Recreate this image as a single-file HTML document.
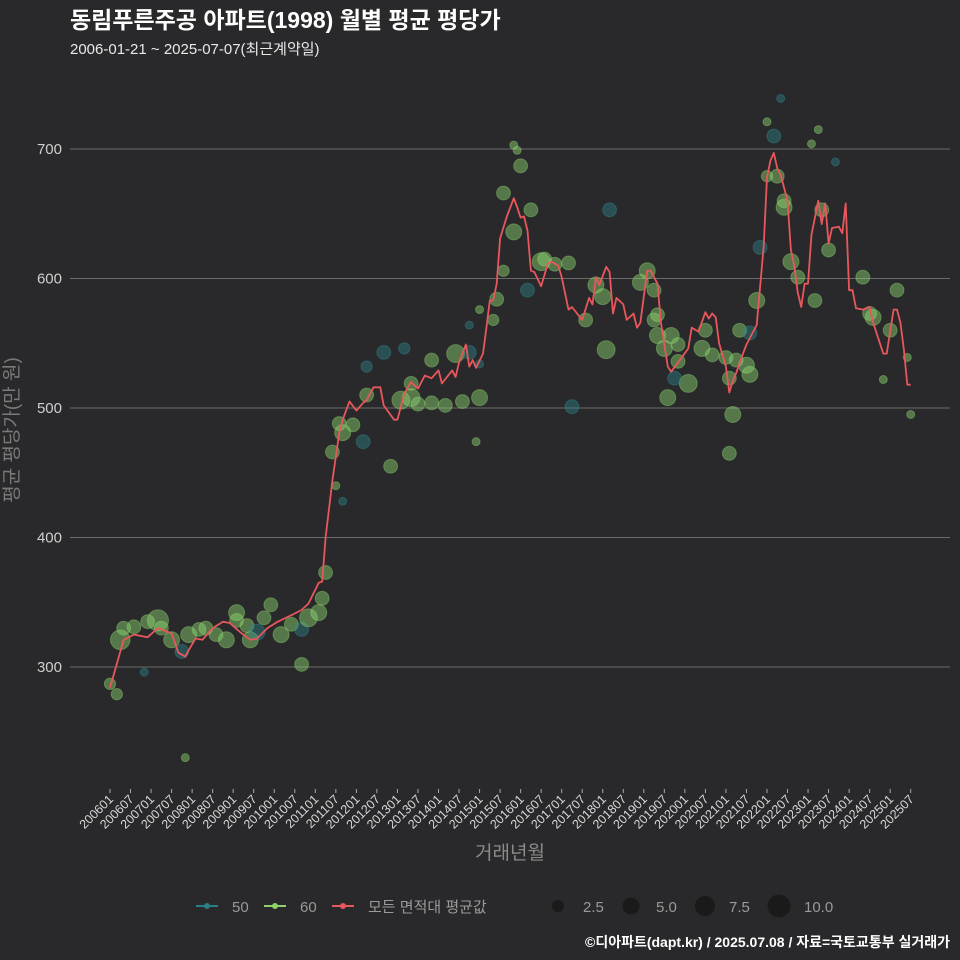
<!DOCTYPE html>
<html><head><meta charset="utf-8">
<style>
html,body{margin:0;padding:0;background:#29292b;}
svg{display:block;font-family:"Liberation Sans","Noto Sans CJK KR",sans-serif;}
</style></head>
<body>
<svg id="chart" width="960" height="960" viewBox="0 0 960 960">
<rect width="960" height="960" fill="#29292b"/>
<text x="70" y="28" fill="#ffffff" font-size="23" font-weight="bold">동림푸른주공 아파트(1998) 월별 평균 평당가</text>
<text x="70" y="54" fill="#e8e8e8" font-size="15">2006-01-21 ~ 2025-07-07(최근계약일)</text>
<g id="grid"></g>
<g id="yticks"></g>
<g id="xticks"></g>
<g id="bubbles"></g>
<g id="avgline"></g>
<text transform="translate(18,430) rotate(-90)" text-anchor="middle" fill="#7a7a7a" font-size="19">평균 평당가(만 원)</text>
<text x="510" y="859" text-anchor="middle" fill="#8a8a8a" font-size="19">거래년월</text>
<g>
 <g>
  <line x1="196" y1="906" x2="218" y2="906" stroke="#2a7f86" stroke-width="2"/><circle cx="207" cy="906" r="3" fill="#2a7f86"/>
  <text x="232" y="912" fill="#9a9a9a" font-size="15">50</text></g>
 <g>
  <line x1="264" y1="906" x2="286" y2="906" stroke="#8fd26a" stroke-width="2"/><circle cx="275" cy="906" r="3" fill="#8fd26a"/>
  <text x="300" y="912" fill="#9a9a9a" font-size="15">60</text></g>
 <g>
  <line x1="332" y1="906" x2="354" y2="906" stroke="#e8575c" stroke-width="2"/><circle cx="343" cy="906" r="3" fill="#e8575c"/>
  <text x="368" y="912" fill="#9a9a9a" font-size="15">모든 면적대 평균값</text></g>
 <g>
  <circle cx="558" cy="906" r="6" fill="#1a1a1b"/><text x="583" y="912" fill="#9a9a9a" font-size="15">2.5</text>
  <circle cx="631" cy="906" r="8.5" fill="#1a1a1b"/><text x="656" y="912" fill="#9a9a9a" font-size="15">5.0</text>
  <circle cx="705" cy="906" r="10" fill="#1a1a1b"/><text x="729" y="912" fill="#9a9a9a" font-size="15">7.5</text>
  <circle cx="779" cy="906" r="11.5" fill="#1a1a1b"/><text x="804" y="912" fill="#9a9a9a" font-size="15">10.0</text>
 </g>
</g>
<text x="950" y="947" text-anchor="end" fill="#ffffff" font-size="14" font-weight="bold">©디아파트(dapt.kr) / 2025.07.08 / 자료=국토교통부 실거래가</text>
</svg>
<script>
const yTicks=[300,400,500,600,700];
const avgMonths=[0,4,7,11,14,18,20,22,23,25,27,30,33,35,38,41,43,46,49,53,56,58,61,62,63,65,67,68,70,72,74,75,77,79,80,83,84,86,88,90,92,94,96,97,100,101,102,104,105,106,107,109,110,111,112,113,114,116,118,119,120,121,122,123,124,126,128,129,131,132,134,135,138,140,141,142,143,145,146,147,148,150,151,153,154,155,157,158,160,161,163,164,166,169,170,172,174,175,176,177,178,180,181,182,183,185,186,189,191,192,193,194,195,196,198,199,200,201,202,203,204,205,207,208,209,210,211,213,214,215,216,217,218,220,222,223,225,226,227,229,230,231,232,233,234];
const avgValues=[284,321,325,323,330,326,311,308,313,322,321,330,335,334,327,321,322,330,335,340,344,349,365,366,400,444,481,491,505,498,504,506,516,516,502,491,491,511,520,515,525,523,529,519,529,524,535,549,532,537,531,542,562,583,583,596,631,648,662,655,647,648,637,606,605,594,612,613,610,601,576,578,568,585,580,601,595,609,605,573,585,580,568,573,562,566,606,606,596,566,532,528,535,546,562,559,574,569,573,570,550,532,512,521,527,542,549,564,624,678,691,697,685,680,660,622,609,589,578,596,596,634,660,642,658,627,639,640,635,658,591,591,577,576,578,566,550,542,542,576,576,566,545,518,518];
const bMonths=[0,2,3,4,7,11,14,10,22,15,18,21,23,26,31,28,34,37,40,37,41,45,47,43,50,53,56,58,61,62,63,56,68,65,66,67,68,71,74,80,86,75,75,88,85,82,94,101,105,105,108,112,113,107,94,90,88,98,103,108,108,115,115,118,118,119,120,123,126,127,130,134,122,135,142,144,145,146,139,155,159,160,157,159,160,164,162,163,169,165,166,166,173,174,176,180,183,186,187,181,182,181,184,187,189,190,192,194,192,196,195,197,197,199,201,206,208,207,205,210,220,222,223,228,230,233,234,226,212];
const bValues=[287,279,321,330,331,335,336,296,230,330,321,312,325,329,325,330,321,336,332,342,321,338,348,327,325,333,329,338,342,353,373,302,428,466,440,488,481,487,474,543,546,532,510,519,506,455,537,542,543,564,576,568,584,474,504,503,508,502,505,508,534,606,666,636,703,699,687,653,613,615,611,612,591,501,595,586,545,653,568,597,591,572,606,568,556,556,546,508,519,523,536,549,546,560,541,539,537,533,526,523,495,465,560,558,583,624,679,710,721,739,679,655,660,613,601,583,653,715,704,622,601,573,570,560,591,539,495,522,690];
const bCounts=[2,2,6,3,3,3,7,1,1,3,4,3,4,3,3,3,4,3,3,4,4,3,3,4,4,3,3,5,4,3,3,3,1,3,1,3,4,3,3,3,2,2,3,3,5,3,3,5,3,1,1,2,3,1,3,3,5,3,3,4,1,2,3,4,1,1,3,3,5,3,3,3,3,3,4,4,5,3,3,4,3,3,4,3,4,4,4,4,5,3,3,3,4,3,3,3,3,4,4,3,4,3,3,3,4,3,2,3,1,1,3,4,3,4,3,3,3,1,1,3,3,3,4,3,3,1,1,1,1];
const bGroups=[60,60,60,60,60,60,60,50,60,60,60,50,60,60,60,60,60,60,60,60,60,60,60,50,60,60,50,60,60,60,60,60,50,60,60,60,60,60,50,50,50,50,60,60,60,60,60,60,50,50,60,60,60,60,60,60,60,60,60,60,50,60,60,60,60,60,60,60,60,60,60,60,50,50,60,60,60,50,60,60,60,60,60,60,60,60,60,60,60,50,60,60,60,60,60,60,60,60,60,60,60,60,60,50,60,50,60,50,60,50,60,60,60,60,60,60,60,60,60,60,60,60,60,60,60,60,60,60,50];
const xLabels=[];for(let y=2006;y<=2025;y++){xLabels.push(y+'01');xLabels.push(y+'07');}

const NS='http://www.w3.org/2000/svg';
const X0=110,DX=(910.7-110)/234;
const xs=m=>X0+m*DX;
const ys=v=>667-(v-300)*1.295;
function mk(tag,attrs,parent){const e=document.createElementNS(NS,tag);for(const k in attrs)e.setAttribute(k,attrs[k]);parent.appendChild(e);return e;}
const grid=document.getElementById('grid'),yt=document.getElementById('yticks'),xt=document.getElementById('xticks');
yTicks.forEach(v=>{
 const l=mk('line',{x1:70,x2:950,y1:ys(v),y2:ys(v),stroke:'#6a6a6a','stroke-width':1},grid);
 
 
 const t=mk('text',{x:62,y:ys(v)+5,'text-anchor':'end',fill:'#cfcfcf','font-size':15},yt);
 t.textContent=v;
 
 
});
xLabels.forEach((lab,i)=>{
 const x=xs(i*6);
 const tk=mk('line',{x1:x,x2:x,y1:789,y2:793,stroke:'#aaaaaa','stroke-width':1},xt);
 
 
 const t=mk('text',{transform:`translate(${x+4},${800}) rotate(-45)`,'text-anchor':'end',fill:'#d8d8d8','font-size':12.5},xt);
 t.textContent=lab;
 
 
});
const bg=document.getElementById('bubbles');
bMonths.forEach((m,i)=>{
 const col=bGroups[i]===50?'#2f8d93':'#8fd870';
 const c=mk('circle',{cx:xs(m),cy:ys(bValues[i]),r:4.0*Math.sqrt(bCounts[i]),fill:col,'fill-opacity':bGroups[i]===50?0.4:0.45,stroke:col,'stroke-opacity':0.4},bg);
 
 
});
const al=document.getElementById('avgline');
const p=mk('path',{d:avgMonths.map((m,i)=>(i?'L':'M')+xs(m).toFixed(1)+','+ys(avgValues[i]).toFixed(1)).join(''),fill:'none',stroke:'#e8575c','stroke-width':1.8,'stroke-linejoin':'round'},al);


</script>
</body></html>
